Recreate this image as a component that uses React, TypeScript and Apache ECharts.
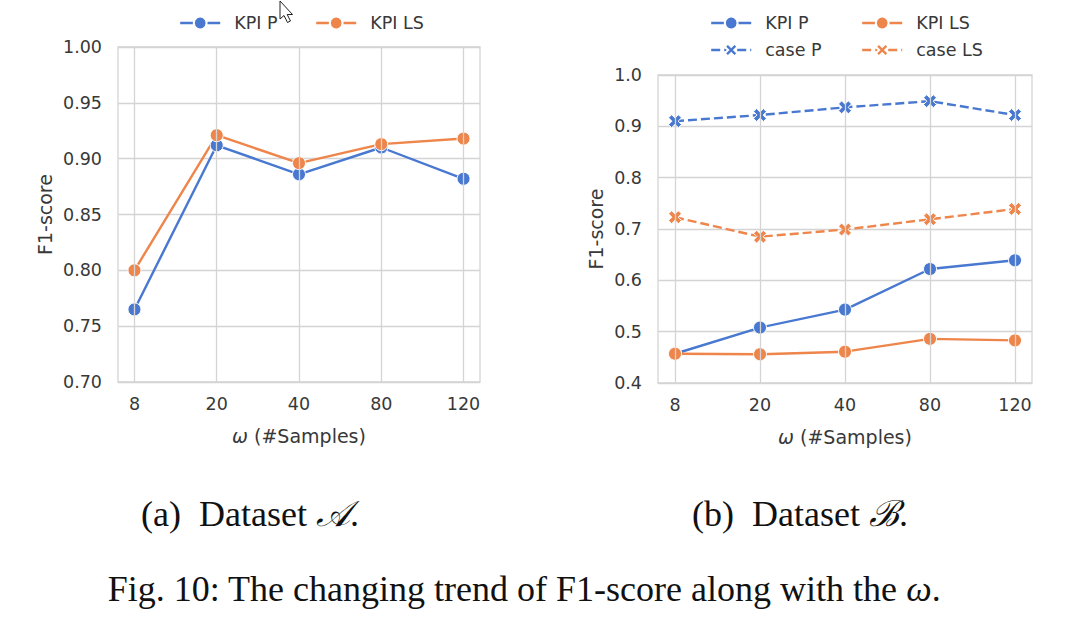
import React, { useEffect, useRef } from "react";
import * as echarts from "echarts";

const xLabels = ["8", "20", "40", "80", "120"];
const aKpiP = [0.765, 0.912, 0.886, 0.91, 0.882];
const aKpiLS = [0.8, 0.921, 0.896, 0.913, 0.918];
const bKpiP = [0.457, 0.508, 0.543, 0.622, 0.639];
const bKpiLS = [0.457, 0.456, 0.461, 0.486, 0.483];
const bCaseP = [0.91, 0.922, 0.937, 0.949, 0.922];
const bCaseLS = [0.723, 0.685, 0.699, 0.719, 0.739];

const BLUE = "#4878d0";
const ORANGE = "#ee854a";
const GRID = "#d4d4d4";
const TXT = "#383838";
const FONT = "DejaVu Sans";
const X_SYMBOL =
  "path://M0,2.4 L2.4,0 L5,2.6 L7.6,0 L10,2.4 L7.4,5 L10,7.6 L7.6,10 L5,7.4 L2.4,10 L0,7.6 L2.6,5 Z";

const toPairs = (arr: number[]) => arr.map((v, i) => [i, v]);

export default function App() {
  const ref = useRef<HTMLDivElement>(null);
  useEffect(() => {
    if (!ref.current) return;
    const chart = echarts.init(ref.current, undefined, { renderer: "svg" });

    const xAxisFor = (gridIndex: number) => ({
      type: "value",
      gridIndex,
      min: -0.2,
      max: 4.2,
      axisLine: { show: false },
      axisTick: { show: false },
      splitLine: { show: false },
      axisLabel: {
        customValues: [0, 1, 2, 3, 4],
        formatter: (v: number) => xLabels[Math.round(v)] ?? "",
        color: TXT,
        fontFamily: FONT,
        fontSize: 17.5,
        margin: 13,
      },
      name: "{i|ω} (#Samples)",
      nameLocation: "middle",
      nameGap: 44,
      nameTextStyle: {
        color: TXT,
        fontFamily: FONT,
        fontSize: 19,
        rich: { i: { fontStyle: "italic", fontFamily: FONT, fontSize: 19, color: TXT } },
      },
    });

    const yAxisFor = (gridIndex: number, min: number, max: number, interval: number, digits: number, gap: number) => ({
      type: "value",
      gridIndex,
      min,
      max,
      interval,
      axisLine: { show: false },
      axisTick: { show: false },
      splitLine: { show: true, lineStyle: { color: GRID, width: 1.3 } },
      axisLabel: {
        formatter: (v: number) => v.toFixed(digits),
        color: TXT,
        fontFamily: FONT,
        fontSize: 17.5,
        margin: 16,
      },
      name: "F1-score",
      nameLocation: "middle",
      nameGap: gap,
      nameTextStyle: { color: TXT, fontFamily: FONT, fontSize: 19 },
    });

    const vGrid = (idx: number) => ({
      type: "line",
      xAxisIndex: idx,
      yAxisIndex: idx,
      data: [],
      z: 1,
      silent: true,
      markLine: {
        silent: true,
        symbol: ["none", "none"],
        label: { show: false },
        lineStyle: { color: GRID, width: 1.3, type: "solid" },
        emphasis: { disabled: true },
        data: [0, 1, 2, 3, 4].map((v) => ({ xAxis: v })),
      },
    });

    const lineSeries = (
      name: string,
      idx: number,
      data: number[],
      color: string,
      dashed: boolean
    ) => ({
      type: "line",
      name,
      xAxisIndex: idx,
      yAxisIndex: idx,
      data: toPairs(data),
      z: 3,
      symbol: dashed ? X_SYMBOL : "circle",
      symbolSize: 13,
      showAllSymbol: true,
      lineStyle: { color, width: 2.4, type: dashed ? [9, 4] : "solid" },
      itemStyle: { color, borderColor: "#ffffff", borderWidth: 1 },
      emphasis: { disabled: true },
    });

    const legendItem = (name: string, left: number, top: number) => ({
      data: [name],
      left,
      top,
      itemWidth: 40,
      itemHeight: 16,
      selectedMode: false,
      lineStyle: { width: 2.4 },
      textStyle: { color: TXT, fontFamily: FONT, fontSize: 17.5, padding: [0, 0, 0, 9] },
    });

    const capFont = "36px 'Liberation Serif'";
    const capItal = "italic 36px 'Liberation Serif'";

    chart.setOption({
      animation: false,
      backgroundColor: "#ffffff",
      grid: [
        { left: 118, right: 603, top: 47, bottom: 248, show: true, borderColor: GRID, borderWidth: 1.3, backgroundColor: "transparent" },
        { left: 658, right: 51, top: 75, bottom: 247, show: true, borderColor: GRID, borderWidth: 1.3, backgroundColor: "transparent" },
      ],
      xAxis: [xAxisFor(0), xAxisFor(1)],
      yAxis: [yAxisFor(0, 0.7, 1.0, 0.05, 2, 64), yAxisFor(1, 0.4, 1.0, 0.1, 1, 53)],
      legend: [
        legendItem("KPI P", 174, 9),
        legendItem("KPI LS", 310, 9),
        legendItem("KPI P", 705, 9),
        legendItem("KPI LS", 856, 9),
        legendItem("case P", 705, 36),
        legendItem("case LS", 856, 36),
      ],
      series: [
        vGrid(0),
        vGrid(1),
        lineSeries("KPI P", 0, aKpiP, BLUE, false),
        lineSeries("KPI LS", 0, aKpiLS, ORANGE, false),
        lineSeries("KPI P", 1, bKpiP, BLUE, false),
        lineSeries("KPI LS", 1, bKpiLS, ORANGE, false),
        lineSeries("case P", 1, bCaseP, BLUE, true),
        lineSeries("case LS", 1, bCaseLS, ORANGE, true),
      ],
      graphic: [
        {
          type: "text",
          x: 250,
          y: 514,
          style: {
            text: "(a)  Dataset {m|𝒜}.",
            fill: "#111",
            font: capFont,
            align: "center",
            verticalAlign: "middle",
            rich: { m: { font: capItal, fill: "#111" } },
          },
        },
        {
          type: "text",
          x: 800,
          y: 514,
          style: {
            text: "(b)  Dataset {m|ℬ}.",
            fill: "#111",
            font: capFont,
            align: "center",
            verticalAlign: "middle",
            rich: { m: { font: capItal, fill: "#111" } },
          },
        },
        {
          type: "text",
          x: 524,
          y: 589,
          style: {
            text: "Fig. 10: The changing trend of F1-score along with the {m|ω}.",
            fill: "#111",
            font: capFont,
            align: "center",
            verticalAlign: "middle",
            rich: { m: { font: capItal, fill: "#111" } },
          },
        },
        {
          type: "polygon",
          shape: {
            points: [
              [280, 1],
              [280, 19],
              [284, 15.5],
              [287.5, 22.5],
              [290.5, 21],
              [287.2, 14.5],
              [292.5, 14.5],
            ],
          },
          style: { fill: "#ffffff", stroke: "#222", lineWidth: 1 },
          z: 10,
        },
      ],
    });
    return () => chart.dispose();
  }, []);
  return (
    <div
      ref={ref}
      style={{ position: "fixed", left: 0, top: 0, width: 1083, height: 630, background: "#fff" }}
    />
  );
}
